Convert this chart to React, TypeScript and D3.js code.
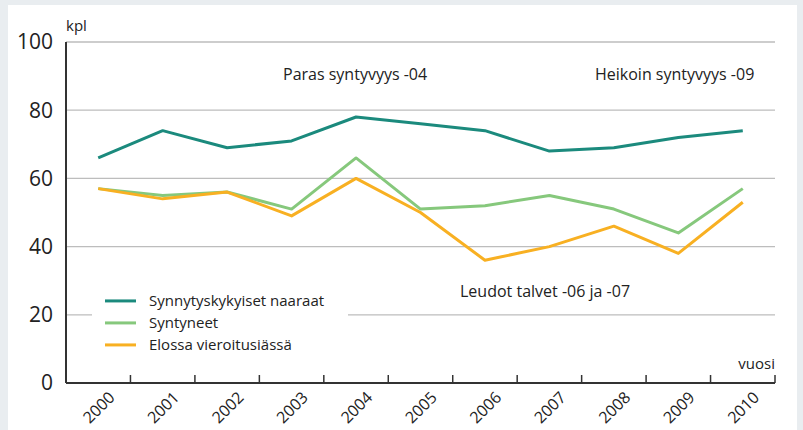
import React, { useEffect, useRef } from "react";
import * as d3 from "d3";

const years = ["2000", "2001", "2002", "2003", "2004", "2005", "2006", "2007", "2008", "2009", "2010"];
const naaraat = [66, 74, 69, 71, 78, 76, 74, 68, 69, 72, 74];
const syntyneet = [57, 55, 56, 51, 66, 51, 52, 55, 51, 44, 57];
const vieroitus = [57, 54, 56, 49, 60, 50, 36, 40, 46, 38, 53];
const yTicks = [0, 20, 40, 60, 80, 100];

const seriesNames = ["Synnytyskykyiset naaraat", "Syntyneet", "Elossa vieroitusiässä"];
const seriesColors = ["#1b8a7d", "#86c87c", "#f8b022"];

const font = "'Open Sans', sans-serif";

const drawChart = (el: SVGSVGElement) => {
  const margin = { top: 42, right: 28, bottom: 47, left: 66 },
    width = 803 - margin.left - margin.right,
    height = 430 - margin.top - margin.bottom;

  const root = d3.select(el);
  root.selectAll("*").remove();

  // grey page and white panel
  root.append("rect").attr("width", 803).attr("height", 430).attr("fill", "#e9edf0");
  root.append("rect").attr("x", 8).attr("y", 5).attr("width", 789).attr("height", 425).attr("fill", "#fff");

  const svg = root.append("g").attr("transform", `translate(${margin.left},${margin.top})`);

  const x = d3.scaleBand().domain(years).range([0, width]).padding(0);
  const y = d3.scaleLinear().domain([0, 100]).range([height, 0]);

  // gridlines
  svg
    .selectAll(".grid")
    .data(yTicks.filter(d => d > 0))
    .enter()
    .append("line")
    .attr("x1", 0)
    .attr("x2", width)
    .attr("y1", d => y(d))
    .attr("y2", d => y(d))
    .attr("stroke", "#bdbdbd")
    .attr("stroke-width", 1.3);

  // y labels
  svg
    .selectAll(".ylab")
    .data(yTicks)
    .enter()
    .append("text")
    .attr("x", -13)
    .attr("y", d => y(d))
    .attr("dy", "0.35em")
    .attr("text-anchor", "end")
    .attr("font-family", font)
    .attr("font-size", 21)
    .attr("fill", "#222")
    .text(d => d);

  // lines
  const line = d3
    .line<number>()
    .x((d, i) => (x(years[i]) as number) + x.bandwidth() / 2)
    .y(d => y(d));

  [naaraat, syntyneet, vieroitus].forEach((s, i) => {
    svg
      .append("path")
      .datum(s)
      .attr("d", line)
      .attr("fill", "none")
      .attr("stroke", seriesColors[i])
      .attr("stroke-width", 3)
      .attr("stroke-linejoin", "round");
  });

  // legend with white box
  const lg = svg.append("g").attr("transform", `translate(26,${y(27)})`);
  lg.append("rect").attr("x", 0).attr("y", 0).attr("width", 256).attr("height", 64).attr("fill", "#fff");
  seriesNames.forEach((n, i) => {
    const yy = 10 + i * 22;
    lg.append("line")
      .attr("x1", 13)
      .attr("x2", 44)
      .attr("y1", yy)
      .attr("y2", yy)
      .attr("stroke", seriesColors[i])
      .attr("stroke-width", 3);
    lg.append("text")
      .attr("x", 57)
      .attr("y", yy)
      .attr("dy", "0.35em")
      .attr("font-family", font)
      .attr("font-size", 15)
      .attr("fill", "#222")
      .text(n);
  });

  // axes
  svg
    .append("line")
    .attr("x1", 0)
    .attr("x2", 0)
    .attr("y1", 0)
    .attr("y2", height)
    .attr("stroke", "#333")
    .attr("stroke-width", 2);

  const tickPos = years.map(d => x(d) as number).concat([width]);
  svg
    .append("line")
    .attr("x1", 0)
    .attr("x2", width)
    .attr("y1", height)
    .attr("y2", height)
    .attr("stroke", "#333")
    .attr("stroke-width", 2);
  svg
    .selectAll(".xtick")
    .data(tickPos.slice(1))
    .enter()
    .append("line")
    .attr("x1", d => d)
    .attr("x2", d => d)
    .attr("y1", height)
    .attr("y2", height - 8)
    .attr("stroke", "#333")
    .attr("stroke-width", 1.5);

  svg
    .selectAll(".xlab")
    .data(years)
    .enter()
    .append("text")
    .attr(
      "transform",
      d => `translate(${(x(d) as number) + x.bandwidth() / 2 + 9},${height + 7}) rotate(-45)`
    )
    .attr("text-anchor", "end")
    .attr("dy", "0.75em")
    .attr("font-family", font)
    .attr("font-size", 16)
    .attr("fill", "#222")
    .text(d => d);

  // axis titles
  svg
    .append("text")
    .attr("x", 0)
    .attr("y", -11)
    .attr("font-family", font)
    .attr("font-size", 15)
    .attr("fill", "#222")
    .text("kpl");
  svg
    .append("text")
    .attr("x", width)
    .attr("y", height - 14)
    .attr("text-anchor", "end")
    .attr("font-family", font)
    .attr("font-size", 15)
    .attr("fill", "#222")
    .text("vuosi");

  // annotations
  const notes = [
    { t: "Paras syntyvyys -04", x: 217, y: 38 },
    { t: "Heikoin syntyvyys -09", x: 529, y: 38 },
    { t: "Leudot talvet -06 ja -07", x: 394, y: 255 }
  ];
  notes.forEach(n => {
    svg
      .append("text")
      .attr("x", n.x)
      .attr("y", n.y)
      .attr("font-family", font)
      .attr("font-size", 16)
      .attr("fill", "#222")
      .text(n.t);
  });
};

export default function App() {
  const ref = useRef<SVGSVGElement>(null);
  useEffect(() => {
    if (ref.current) drawChart(ref.current);
  }, []);
  return (
    <svg
      ref={ref}
      width={803}
      height={430}
      style={{ position: "absolute", left: 0, top: 0 }}
    />
  );
}
